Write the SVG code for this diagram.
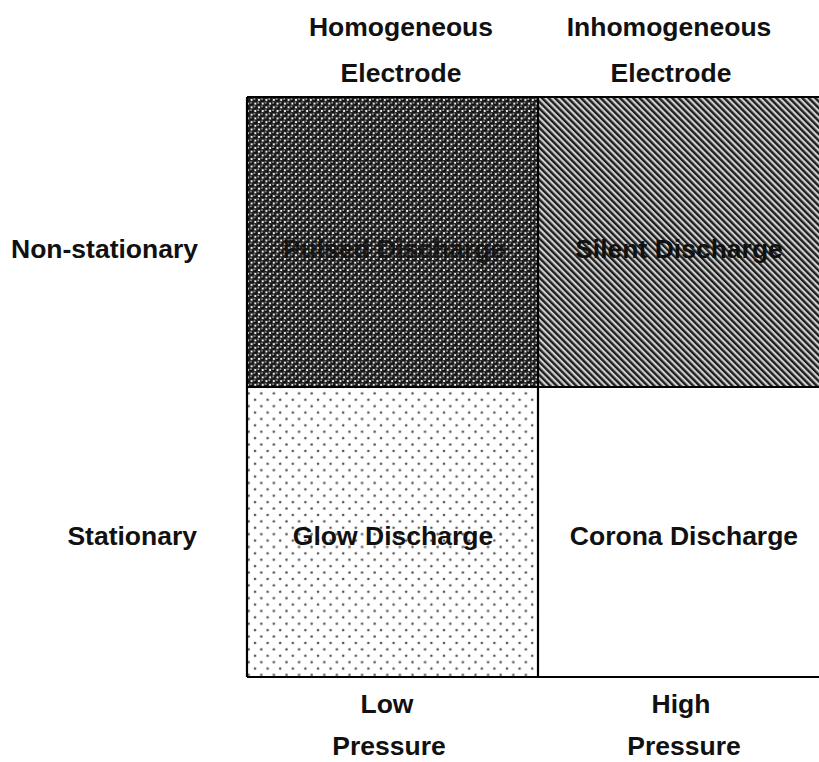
<svg xmlns="http://www.w3.org/2000/svg" width="819" height="762" viewBox="0 0 819 762">
<defs>
<pattern id="balls" patternUnits="userSpaceOnUse" width="7.4" height="7.4">
<rect width="7.4" height="7.4" fill="#f4f4f4"/>
<circle cx="0" cy="0" r="2.75" fill="#141414"/>
<circle cx="7.4" cy="0" r="2.75" fill="#141414"/>
<circle cx="0" cy="7.4" r="2.75" fill="#141414"/>
<circle cx="7.4" cy="7.4" r="2.75" fill="#141414"/>
<circle cx="3.7" cy="3.7" r="2.75" fill="#141414"/>
<circle cx="3.0" cy="2.9" r="0.9" fill="#b5b5b5"/>
<circle cx="6.7" cy="6.6" r="0.9" fill="#b5b5b5"/>
<circle cx="-0.7" cy="-0.8" r="0.9" fill="#b5b5b5"/>
<circle cx="6.7" cy="-0.8" r="0.9" fill="#b5b5b5"/>
<circle cx="-0.7" cy="6.6" r="0.9" fill="#b5b5b5"/>
</pattern>
<pattern id="stripes" patternUnits="userSpaceOnUse" width="4.6" height="10" patternTransform="rotate(-45)">
<rect width="4.6" height="10" fill="#d0d0d0"/>
<rect width="2.4" height="10" fill="#1e1e1e"/>
</pattern>
<pattern id="dots" patternUnits="userSpaceOnUse" width="12.6" height="12.8">
<rect width="12.6" height="12.8" fill="#ffffff"/>
<circle cx="3" cy="3" r="1.3" fill="#555"/>
<circle cx="9.3" cy="9.4" r="1.3" fill="#555"/>
</pattern>
<style>
.t{font-family:"Liberation Sans",Arial,sans-serif;font-weight:bold;font-size:26.5px;fill:#111;}
.m{text-anchor:middle;}
.e{text-anchor:end;}
.cell{stroke:none;}
.grid{fill:none;stroke:#000;stroke-width:2.2;}
</style>
</defs>
<rect width="819" height="762" fill="#ffffff"/>
<g id="cell-pulsed">
<rect class="cell" x="247" y="97" width="291" height="290" fill="url(#balls)"/>
<text class="t m" x="394" y="258" fill-opacity="0.85">Pulsed Discharge</text>
</g>
<g id="cell-silent">
<rect class="cell" x="538" y="97" width="290" height="290" fill="url(#stripes)"/>
<text class="t m" x="679" y="258">Silent Discharge</text>
</g>
<g id="cell-glow">
<rect class="cell" x="247" y="387" width="291" height="290" fill="url(#dots)"/>
<text class="t m" x="393" y="545">Glow Discharge</text>
</g>
<g id="cell-corona">
<rect class="cell" x="538" y="387" width="290" height="290" fill="#ffffff"/>
<text class="t m" x="684" y="545">Corona Discharge</text>
</g>
<g id="connectors">
<path class="grid" d="M247,97 H830 M247,387 H830 M247,677 H830 M247,97 V677 M538,97 V677"/>
</g>
<g id="col-headers">
<text class="t m" x="401" y="36">Homogeneous</text>
<text class="t m" x="401" y="82">Electrode</text>
<text class="t m" x="669" y="36">Inhomogeneous</text>
<text class="t m" x="671" y="82">Electrode</text>
</g>
<g id="row-headers">
<text class="t e" x="198" y="258">Non-stationary</text>
<text class="t e" x="197" y="545">Stationary</text>
</g>
<g id="pressure-labels">
<text class="t m" x="387" y="713">Low</text>
<text class="t m" x="389" y="755">Pressure</text>
<text class="t m" x="681" y="713">High</text>
<text class="t m" x="684" y="755">Pressure</text>
</g>
</svg>
